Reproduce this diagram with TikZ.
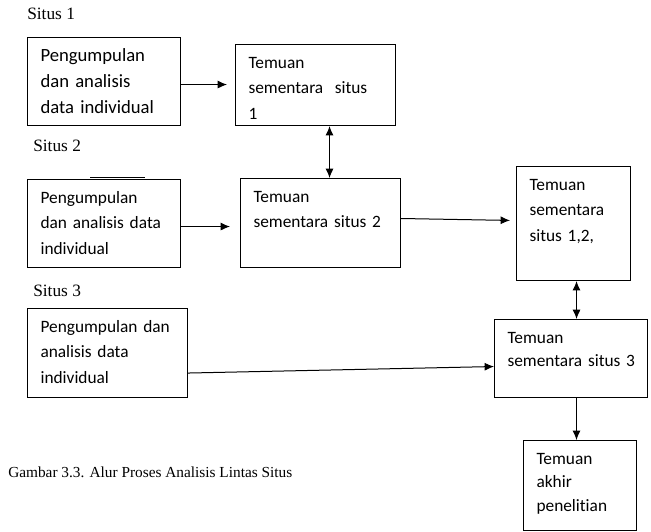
\documentclass[tikz,border=0pt]{standalone}
\usepackage{fontspec}
\setmainfont{Liberation Serif}
\newfontfamily\boxfont{Carlito}[Ligatures=NoCommon]
\usetikzlibrary{arrows.meta}

\begin{document}
\begin{tikzpicture}[x=0.75pt, y=-0.75pt, >={Latex[length=7pt,width=6pt]},
    box/.style 2 args={draw, line width=0.8pt, anchor=north west, align=left,
        inner xsep=9.75pt, inner ysep=0pt, text height=18pt, text width=#1, text depth=#2,
        font=\boxfont\fontsize{13pt}{19pt}\selectfont},
    site/.style={anchor=base west, inner sep=0pt, font=\fontsize{13pt}{16pt}\selectfont},
    link/.style={->, line width=0.75pt}]
    \useasboundingbox (0,0) rectangle (651,532);

    \node(situs1)[site] at (27,19) {Situs 1};
    \node(kumpul1)[box={95.25pt}{48pt}, font=\boxfont\fontsize{14pt}{19.5pt}\selectfont] at (27,37)
        {Pengumpulan \\ dan analisis \\ data individual};
    \node(temuan1)[box={100.5pt}{42.75pt}] at (235,44)
        {Temuan \\ sementara~~situs \\ 1};

    \node(situs2)[site] at (33,151) {Situs 2};
    \node(kumpul2)[box={95.25pt}{48pt}] at (27,179)
        {Pengumpulan \\ dan analisis data \\ individual};
    \node(temuan2)[box={100.5pt}{48.75pt}] at (240,178)
        {Temuan \\ sementara situs 2};
    \node(gabung)[box={66pt}{67.5pt}] at (516,166)
        {Temuan \\ sementara \\ situs 1,2,};

    \node(situs3)[site] at (33,296) {Situs 3};
    \node(kumpul3)[box={100.5pt}{48.75pt}] at (27,308)
        {Pengumpulan dan \\ analisis data \\ individual};
    \node(temuan3)[box={95.25pt}{40.5pt}, font=\boxfont\fontsize{13pt}{17.5pt}\selectfont] at (494,319)
        {Temuan \\ \mbox{sementara situs 3}};
    \node(akhir)[box={65.25pt}{49.5pt}, font=\boxfont\fontsize{13pt}{17.5pt}\selectfont] at (523,440)
        {Temuan \\ akhir \\ penelitian};

    \node(judul)[site, font=\fontsize{11.5pt}{14pt}\selectfont] at (8,477)
        {Gambar 3.3. Alur Proses Analisis Lintas Situs};

    % stray rule over the second box
    \draw[line width=1pt] ([shift={(63,-1.5)}]kumpul2.north west) -- ([shift={(118,-1.5)}]kumpul2.north west);

    \draw[link, shorten >=6pt] ([yshift=-2.25pt]kumpul1.east) -- ([yshift=-2.25pt]kumpul1.east -| temuan1.west);
    \draw[link, <->] ([xshift=10.5pt]temuan1.south) -- ([xshift=10.5pt]temuan1.south |- temuan2.north);
    \draw[link, shorten >=7.5pt] ([yshift=-2.25pt]kumpul2.east) -- ([yshift=-2.25pt]kumpul2.east -| temuan2.west);
    \draw[link, shorten >=4.5pt] ([yshift=3.4pt]temuan2.east) -- ([yshift=2.25pt]gabung.west);
    \draw[link, <->] ([xshift=2.25pt]gabung.south) -- ([xshift=2.25pt]gabung.south |- temuan3.north);
    \draw[link] ([yshift=-15pt]kumpul3.east) -- ([yshift=-6pt]temuan3.west);
    \draw[link] ([xshift=4.1pt]temuan3.south) -- ([xshift=4.1pt]temuan3.south |- akhir.north);
\end{tikzpicture}
\end{document}
